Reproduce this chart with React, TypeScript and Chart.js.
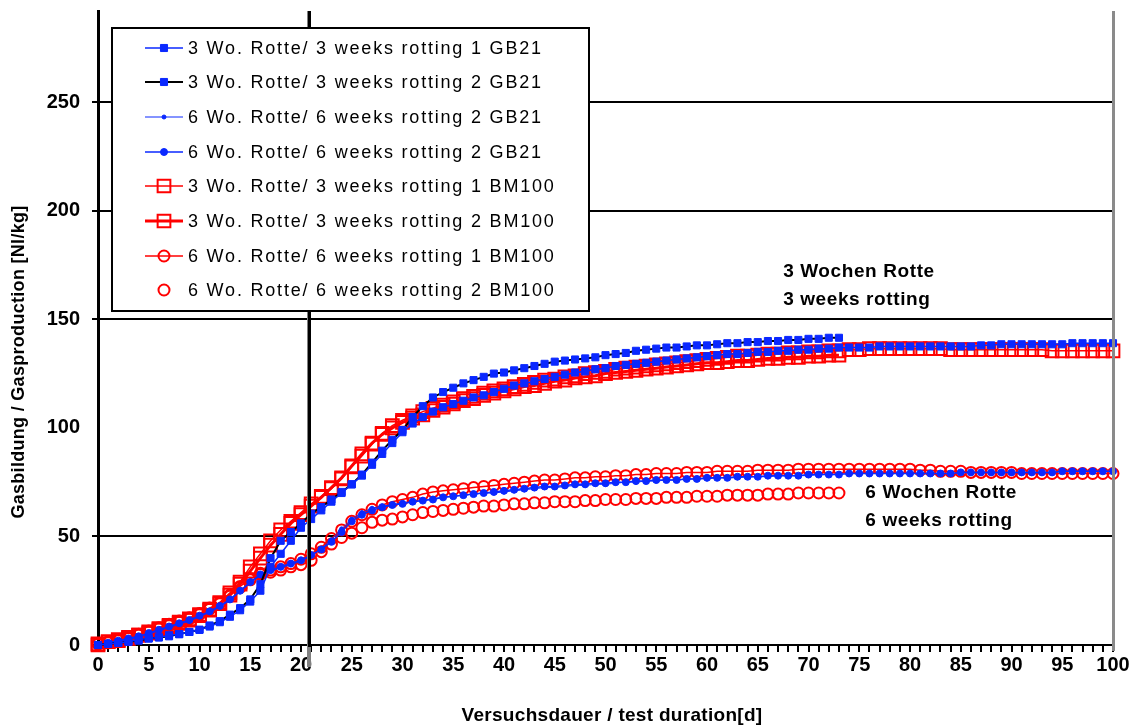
import React, { useEffect, useRef } from 'react';
import { Chart, registerables } from 'chart.js';

Chart.register(...registerables);

// one measurement per day, starting at day 0
const FIRST_DAY = 0;

const seriesLabels = [
  '3 Wo. Rotte/ 3 weeks rotting 1 GB21',
  '3 Wo. Rotte/ 3 weeks rotting 2 GB21',
  '6 Wo. Rotte/ 6 weeks rotting 2 GB21',
  '6 Wo. Rotte/ 6 weeks rotting 2 GB21',
  '3 Wo. Rotte/ 3 weeks rotting 1 BM100',
  '3 Wo. Rotte/ 3 weeks rotting 2 BM100',
  '6 Wo. Rotte/ 6 weeks rotting 1 BM100',
  '6 Wo. Rotte/ 6 weeks rotting 2 BM100',
];

const gb21_3w_1 = [
  0, 0.5, 1, 1.5, 2.5, 3, 3.5, 4.5, 5, 6,
  7, 8.5, 10.5, 13, 16, 20, 25, 36, 42, 48,
  54, 58, 62, 66, 70, 74, 78, 83, 88, 93,
  98, 102, 105, 107.5, 109.5, 111, 112.5, 114, 115, 116.5,
  118, 119.5, 120.5, 121.5, 122.5, 123.5, 124.5, 125.5, 126, 127,
  127.5, 128.5, 129, 129.5, 130, 130.5, 131, 131.5, 132, 132.5,
  133, 133.5, 134, 134, 134.5, 135, 135, 135.5, 135.5, 136,
  136, 136.5, 136.5, 137, 137, 137, 137, 137.5, 137.5, 137.5,
  137.5, 137.5, 137.5, 137.5, 137.5, 137.5, 137.5, 138, 138, 138.5,
  138.5, 138.5, 138.5, 138.5, 138.5, 138.5, 139, 139, 139, 139,
  139,
];

const gb21_3w_2 = [
  0, 0.5, 1, 1.5, 2, 3, 3.5, 4, 5, 6,
  7, 9, 11, 14, 17, 21, 28, 40, 48, 52,
  56, 60.5, 63.5, 67, 70.5, 74, 78.5, 84, 89.5, 94.5,
  99, 105, 110, 114, 116.5, 118.5, 120.5, 122, 123.5, 125,
  125.5, 126.5, 127.5, 128.5, 129.5, 130.5, 131, 131.5, 132, 132.5,
  133.5, 134, 134.5, 135.5, 136, 136.5, 137, 137, 137.5, 138,
  138, 138.5, 139, 139, 139.5, 139.5, 140, 140, 140.5, 140.5,
  141, 141, 141.5, 141.5,
];

const gb21_6w_2a = [
  0, 0.5, 1.5, 2.5, 3.5, 5, 6.5, 8, 9.5, 11,
  13, 15, 17.5, 20.5, 24.5, 28.5, 32, 34, 35.5, 37,
  38.5, 41, 44.5, 48.5, 53.5, 58, 61, 63, 64, 64.5,
  65.5, 66, 66.5, 67.5, 68, 68.5, 69, 69.5, 70, 70,
  70.5, 71, 71.5, 72, 72.5, 72.5, 73, 73.5, 73.5, 74,
  74, 74.5, 75, 75, 75.5, 75.5, 76, 76, 76.5, 76.5,
  76.5, 77, 77, 77, 77.5, 77.5, 77.5, 78, 78, 78,
  78, 78.5, 78.5, 78.5,
];

const gb21_6w_2b = [
  0, 1, 2, 3, 4, 5.5, 7, 8.5, 10, 11.5,
  13.5, 15.5, 18, 21, 25, 29, 32.5, 34.5, 36, 37.5,
  39, 41.5, 44, 47.5, 52, 57, 60, 62, 63.5, 64.5,
  65, 66, 66.5, 67, 68, 68.5, 69, 69.5, 70, 70.5,
  71, 71.5, 72, 72.5, 73, 73, 73.5, 74, 74, 74.5,
  74.5, 75, 75, 75.5, 75.5, 76, 76, 76, 76.5, 76.5,
  77, 77, 77, 77.5, 77.5, 77.5, 78, 78, 78, 78,
  78.5, 78.5, 78.5, 78.5, 79, 79, 79, 79, 79, 79,
  79, 79, 79, 79, 79, 79.5, 79.5, 79.5, 79.5, 79.5,
  79.5, 79.5, 79.5, 79.5, 79.5, 80, 80, 80, 80, 80,
  80,
];

const bm100_3w_1 = [
  0, 1.5, 2.5, 3.5, 4.5, 6, 7.5, 9, 10.5, 12,
  14, 16.5, 19.5, 24, 29, 36, 42, 48, 53, 57,
  61, 65, 68.5, 72, 76.5, 82, 87, 92.5, 97.5, 101,
  103.5, 105.5, 107.5, 109, 110.5, 112, 113.5, 114.5, 116, 117,
  118, 119, 120, 121, 122, 122.5, 123.5, 124, 125, 125.5,
  126, 127, 127.5, 128, 128.5, 129, 129.5, 130, 130.5, 131,
  131.5, 132, 132.5, 133, 133, 133.5, 134, 134, 134.5, 134.5,
  135, 135, 135.5, 135.5, 136, 136, 136.5, 136.5, 136.5, 136.5,
  136.5, 136.5, 136.5, 136.5, 136, 136, 136, 136, 136, 136,
  136, 136, 136, 136, 135.5, 135.5, 135.5, 135.5, 135.5, 135.5,
  135.5,
];

const bm100_3w_2 = [
  0.5, 1.5, 2, 3, 4.5, 5.5, 7, 8.5, 10, 11.5,
  13.5, 16, 19, 23, 28, 34, 40, 46, 51, 56,
  60, 64, 68, 72.5, 77, 82.5, 88, 93, 97, 100,
  102.5, 104.5, 106, 108, 109.5, 111, 112.5, 113.5, 115, 116,
  117, 118, 119, 119.5, 120.5, 121.5, 122, 123, 123.5, 124,
  125, 125.5, 126, 126.5, 127, 127.5, 128, 128.5, 129, 129.5,
  130, 130, 130.5, 131, 131, 131.5, 132, 132, 132.5, 132.5,
  133, 133, 133.5, 133.5,
];

const bm100_6w_1 = [
  0.5, 1.5, 2.5, 3.5, 5, 6.5, 8, 9.5, 11, 12.5,
  14.5, 17, 19.5, 23, 27, 30.5, 33, 34.5, 36, 37.5,
  39.5, 42, 45, 49, 53, 57, 60, 62.5, 64.5, 66,
  67, 68, 69.5, 70.5, 71, 71.5, 72, 72.5, 73, 73.5,
  74, 74.5, 75, 75.5, 76, 76, 76.5, 77, 77, 77.5,
  77.5, 78, 78, 78.5, 78.5, 79, 79, 79, 79.5, 79.5,
  79.5, 80, 80, 80, 80, 80.5, 80.5, 80.5, 80.5, 81,
  81, 81, 81, 81, 81, 81, 81, 81, 81, 81,
  81, 80.5, 80.5, 80, 80, 80, 79.5, 79.5, 79.5, 79.5,
  79.5, 79, 79, 79, 79, 79, 79, 79, 79, 79,
  79,
];

const bm100_6w_2 = [
  0.5, 1, 2, 3, 4.5, 6, 7.5, 9, 10.5, 12,
  14, 16.5, 19, 22.5, 26.5, 30, 32.5, 33.5, 34.5, 36,
  37, 39, 43, 46.5, 49.5, 51.5, 54, 56.5, 57.5, 58,
  59, 60, 61, 61.5, 62, 62.5, 63, 63.5, 64, 64,
  64.5, 65, 65, 65.5, 65.5, 66, 66, 66, 66.5, 66.5,
  67, 67, 67, 67.5, 67.5, 67.5, 68, 68, 68, 68.5,
  68.5, 68.5, 69, 69, 69, 69, 69.5, 69.5, 69.5, 70,
  70, 70, 70, 70,
];

const yTickValues = [0, 50, 100, 150, 200, 250];
const yGridHidden = [100];
const X_MIN = 0;
const X_MAX = 100;
const Y_MAX = 292;
const xLabelEvery = 5;
const markerDay = 20.8;

const annotationTexts = [
  { lines: ['3 Wochen Rotte', '3 weeks rotting'], x: 67.5, y: 172 },
  { lines: ['6 Wochen Rotte', '6 weeks rotting'], x: 75.6, y: 70 },
];

const xTitle = 'Versuchsdauer / test duration[d]';
const yTitle = 'Gasbildung / Gasproduction [Nl/kg]';

const BLUE = '#0a28ff';
const RED = '#ff0000';
const FONT = '"Liberation Sans", Arial, sans-serif';

const toPoints = (vals: number[]) => vals.map((v, i) => ({ x: FIRST_DAY + i, y: v }));

function drawMarker(ctx: CanvasRenderingContext2D, style: string, x: number, y: number, r: number, fill: string, stroke: string, bw: number) {
  ctx.beginPath();
  if (style === 'rect') {
    const s = r * Math.SQRT1_2;
    ctx.rect(x - s, y - s, 2 * s, 2 * s);
  } else {
    ctx.arc(x, y, r, 0, Math.PI * 2);
  }
  if (fill && fill !== 'transparent') {
    ctx.fillStyle = fill;
    ctx.fill();
  }
  if (bw > 0) {
    ctx.lineWidth = bw;
    ctx.strokeStyle = stroke;
    ctx.stroke();
  }
}

const decorPlugin = {
  id: 'decor',
  afterDatasetsDraw(chart: any) {
    const { ctx, chartArea, scales } = chart;
    ctx.save();
    // vertical marker line
    const vx = Math.round(scales.x.getPixelForValue(markerDay));
    ctx.fillStyle = '#808080';
    ctx.fillRect(vx - 2, chartArea.top, 4, chartArea.bottom - chartArea.top + 22);
    ctx.fillStyle = '#000';
    ctx.fillRect(vx - 1, chartArea.top, 3, chartArea.bottom - chartArea.top + 2);
    // right border
    ctx.fillStyle = '#8a8a8a';
    ctx.fillRect(chartArea.right - 1, chartArea.top, 3, chartArea.bottom - chartArea.top + 6);
    ctx.restore();
  },
  afterDraw(chart: any) {
    const { ctx, scales, data } = chart;
    ctx.save();
    // annotations
    ctx.fillStyle = '#000';
    ctx.font = `bold 19px ${FONT}`;
    (ctx as any).letterSpacing = '0.6px';
    ctx.textAlign = 'left';
    ctx.textBaseline = 'middle';
    annotationTexts.forEach((a) => {
      const px = scales.x.getPixelForValue(a.x);
      const py = scales.y.getPixelForValue(a.y);
      a.lines.forEach((t, i) => ctx.fillText(t, px, py + i * 28));
    });
    // axis titles
    ctx.font = `bold 19px ${FONT}`;
    (ctx as any).letterSpacing = '0.3px';
    ctx.textAlign = 'center';
    ctx.fillText(xTitle, 612, 716);
    ctx.save();
    ctx.translate(19, 362);
    ctx.rotate(-Math.PI / 2);
    ctx.font = `bold 18px ${FONT}`;
    ctx.fillText(yTitle, 0, 0);
    ctx.restore();

    // legend box
    const bx = 112, by = 28, bw = 477, bh = 283;
    ctx.fillStyle = '#fff';
    ctx.fillRect(bx, by, bw, bh);
    ctx.strokeStyle = '#000';
    ctx.lineWidth = 2;
    ctx.strokeRect(bx, by, bw, bh);
    ctx.font = `18px ${FONT}`;
    (ctx as any).letterSpacing = '1.8px';
    ctx.textAlign = 'left';
    ctx.textBaseline = 'middle';
    data.datasets.forEach((ds: any, i: number) => {
      const y = Math.round(47.5 + i * 34.7);
      if (ds.showLine !== false) {
        ctx.strokeStyle = ds.borderColor;
        ctx.lineWidth = ds.borderWidth;
        ctx.beginPath();
        ctx.moveTo(145, y);
        ctx.lineTo(183, y);
        ctx.stroke();
      }
      drawMarker(ctx, ds.pointStyle, 164, y, ds.pointRadius, ds.pointBackgroundColor, ds.pointBorderColor, ds.pointBorderWidth);
      ctx.fillStyle = '#000';
      ctx.fillText(ds.label, 188, y + 1);
    });
    ctx.restore();
  },
};

export default function App() {
  const ref = useRef<HTMLCanvasElement | null>(null);

  useEffect(() => {
    if (!ref.current) return;
    const mk = (label: string, vals: number[], o: any) => ({
      label,
      data: toPoints(vals),
      clip: false,
      ...o,
    });
    const datasets = [
      mk(seriesLabels[0], gb21_3w_1, { borderColor: BLUE, borderWidth: 1.5, pointStyle: 'rect', pointRadius: 5, pointBackgroundColor: BLUE, pointBorderColor: BLUE, pointBorderWidth: 1 }),
      mk(seriesLabels[1], gb21_3w_2, { borderColor: '#000', borderWidth: 2, pointStyle: 'rect', pointRadius: 5, pointBackgroundColor: BLUE, pointBorderColor: BLUE, pointBorderWidth: 1 }),
      mk(seriesLabels[2], gb21_6w_2a, { borderColor: BLUE, borderWidth: 1, pointStyle: 'circle', pointRadius: 2, pointBackgroundColor: BLUE, pointBorderColor: BLUE, pointBorderWidth: 1 }),
      mk(seriesLabels[3], gb21_6w_2b, { borderColor: BLUE, borderWidth: 1.5, pointStyle: 'circle', pointRadius: 3.5, pointBackgroundColor: BLUE, pointBorderColor: BLUE, pointBorderWidth: 1 }),
      mk(seriesLabels[4], bm100_3w_1, { borderColor: RED, borderWidth: 1.5, pointStyle: 'rect', pointRadius: 9, pointBackgroundColor: 'transparent', pointBorderColor: RED, pointBorderWidth: 2 }),
      mk(seriesLabels[5], bm100_3w_2, { borderColor: RED, borderWidth: 3, pointStyle: 'rect', pointRadius: 9, pointBackgroundColor: 'transparent', pointBorderColor: RED, pointBorderWidth: 2 }),
      mk(seriesLabels[6], bm100_6w_1, { borderColor: RED, borderWidth: 1.5, pointStyle: 'circle', pointRadius: 5.5, pointBackgroundColor: 'transparent', pointBorderColor: RED, pointBorderWidth: 2 }),
      mk(seriesLabels[7], bm100_6w_2, { borderColor: RED, borderWidth: 0, showLine: false, pointStyle: 'circle', pointRadius: 5.5, pointBackgroundColor: 'transparent', pointBorderColor: RED, pointBorderWidth: 2 }),
    ];

    const chart = new Chart(ref.current, {
      type: 'line',
      data: { datasets },
      plugins: [decorPlugin],
      options: {
        animation: false,
        responsive: false,
        devicePixelRatio: 1,
        layout: { padding: { left: 0, top: 10, right: 16, bottom: 0 } },
        plugins: { legend: { display: false }, tooltip: { enabled: false } },
        elements: { line: { tension: 0 } },
        scales: {
          x: {
            type: 'linear',
            min: X_MIN,
            max: X_MAX,
            afterFit: (s: any) => {
              s.height = 81;
              s.paddingLeft = 0;
              s.paddingRight = 0;
            },
            ticks: {
              stepSize: 1,
              autoSkip: false,
              maxRotation: 0,
              padding: 1,
              color: '#000',
              font: { family: FONT, size: 20, weight: 'bold' },
              callback: (v: any) => (Number(v) % xLabelEvery === 0 ? String(v) : ''),
            },
            grid: { drawOnChartArea: false, color: '#000', lineWidth: 2, tickLength: 7 },
            border: { color: '#000', width: 2 },
          },
          y: {
            type: 'linear',
            min: 0,
            max: Y_MAX,
            afterBuildTicks: (s: any) => {
              s.ticks = yTickValues.map((v) => ({ value: v }));
            },
            afterFit: (s: any) => {
              s.width = 98;
              s.paddingTop = 0;
              s.paddingBottom = 0;
            },
            ticks: {
              padding: 12,
              color: '#000',
              font: { family: FONT, size: 20, weight: 'bold' },
            },
            grid: {
              color: (c: any) => (c.tick && yGridHidden.includes(c.tick.value) ? 'rgba(0,0,0,0)' : '#000'),
              lineWidth: 2,
              tickLength: 6,
            },
            border: { color: '#000', width: 3 },
          },
        },
      } as any,
    });
    return () => chart.destroy();
  }, []);

  return (
    <div style={{ position: 'fixed', left: 0, top: 0, width: 1129, height: 726, background: '#fff' }}>
      <canvas ref={ref} width={1129} height={726} style={{ display: 'block' }} />
    </div>
  );
}
